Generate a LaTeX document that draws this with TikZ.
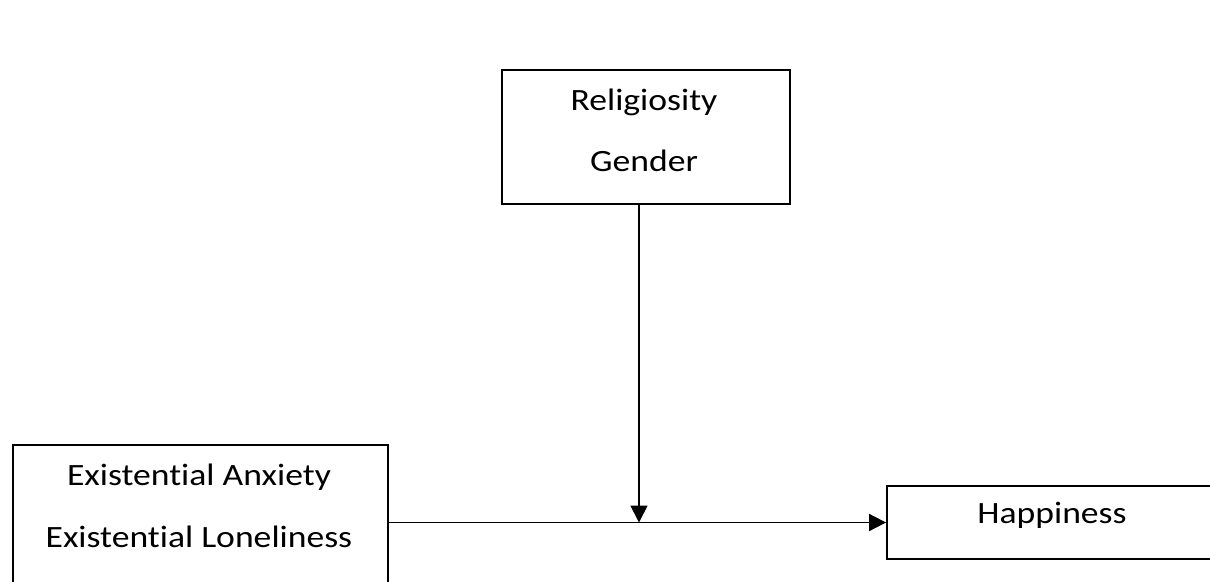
\documentclass[tikz,border=0pt]{standalone}
\usepackage{fontspec}
\setmainfont{Carlito}[Ligatures=NoCommon, FakeStretch=1.15]
\usetikzlibrary{arrows.meta}
\begin{document}
\begin{tikzpicture}[x=1pt,y=-1pt,
  box/.style={draw, line width=1.8pt, inner sep=0pt},
  lbl/.style={font=\fontsize{31}{36}\selectfont, inner sep=0pt, anchor=base},
  arr/.style={line width=1.8pt, -{Triangle[length=17pt,width=17pt]}}]
\useasboundingbox (0,0) rectangle (1210,581);
\node[box, minimum width=288pt, minimum height=134pt] (rel) at (646,137) {};
\node[box, minimum width=375pt, minimum height=155pt] (exi) at (200.5,522.5) {};
\node[box, minimum width=330pt, minimum height=73pt] (hap) at (1052,522.5) {};
\node[lbl] (t1) at (644,110) {Religiosity};
\node[lbl] (t2) at (644,171.5) {Gender};
\node[lbl] (t3) at (199,485) {Existential Anxiety};
\node[lbl] (t4) at (199,547) {Existential Loneliness};
\node[lbl] (t5) at (1052,523) {Happiness};
\coordinate (m) at (639,522.5);
\draw[arr] (rel.south -| m) -- (m);
\draw[arr] (exi.east) -- (hap.west);
\end{tikzpicture}
\end{document}
